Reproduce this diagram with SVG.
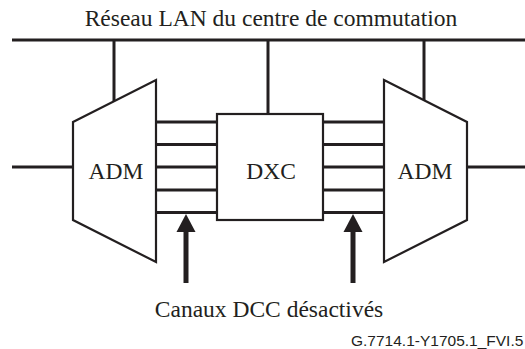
<svg xmlns="http://www.w3.org/2000/svg" width="525" height="349" viewBox="0 0 525 349">
<style>
.serif{font-family:"Liberation Serif","Times New Roman",serif;font-size:23.5px;fill:#231f20}
.sans{font-family:"Liberation Sans",Arial,sans-serif;font-size:15.5px;fill:#231f20}
.shape{fill:#fff;stroke:#231f20;stroke-width:2.2}
.ln{stroke:#231f20;stroke-width:3;fill:none}
.arr{stroke:#231f20;stroke-width:5;fill:none}
.head{fill:#231f20}
</style>
<rect width="525" height="349" fill="#fff"/>
<g id="connectors">
<line class="ln" x1="12" y1="40" x2="525" y2="40"/>
<line class="ln" x1="114" y1="40" x2="114" y2="101"/>
<line class="ln" x1="268" y1="40" x2="268" y2="114"/>
<line class="ln" x1="424" y1="40" x2="424" y2="101"/>
<line class="ln" x1="12" y1="167" x2="73" y2="167"/>
<line class="ln" x1="467" y1="167" x2="525" y2="167"/>
<g id="channels-left">
<line class="ln" x1="156" y1="122" x2="217" y2="122"/>
<line class="ln" x1="156" y1="144.5" x2="217" y2="144.5"/>
<line class="ln" x1="156" y1="167" x2="217" y2="167"/>
<line class="ln" x1="156" y1="190" x2="217" y2="190"/>
<line class="ln" x1="156" y1="212.5" x2="217" y2="212.5"/>
</g>
<g id="channels-right">
<line class="ln" x1="323" y1="122" x2="384" y2="122"/>
<line class="ln" x1="323" y1="144.5" x2="384" y2="144.5"/>
<line class="ln" x1="323" y1="167" x2="384" y2="167"/>
<line class="ln" x1="323" y1="190" x2="384" y2="190"/>
<line class="ln" x1="323" y1="212.5" x2="384" y2="212.5"/>
</g>
<g id="arrow-left">
<line class="arr" x1="186" y1="283" x2="186" y2="228"/>
<polygon class="head" points="186,214 176.5,232 195.5,232"/>
</g>
<g id="arrow-right">
<line class="arr" x1="353" y1="283" x2="353" y2="228"/>
<polygon class="head" points="353,214 343.5,232 362.5,232"/>
</g>
</g>
<g id="adm-left">
<polygon class="shape" points="73,122 156,80 156,262 73,220"/>
<text class="serif" x="116" y="179" text-anchor="middle">ADM</text>
</g>
<g id="dxc">
<rect class="shape" x="217" y="114" width="106" height="106"/>
<text class="serif" x="271" y="179" text-anchor="middle">DXC</text>
</g>
<g id="adm-right">
<polygon class="shape" points="384,80 467,122 467,220 384,262"/>
<text class="serif" x="425" y="179" text-anchor="middle">ADM</text>
</g>
<g id="labels">
<text class="serif" x="271" y="26" text-anchor="middle">Réseau LAN du centre de commutation</text>
<text class="serif" x="269" y="317" text-anchor="middle">Canaux DCC désactivés</text>
<text class="sans" x="351" y="345.5">G.7714.1-Y1705.1_FVI.5</text>
</g>
</svg>
